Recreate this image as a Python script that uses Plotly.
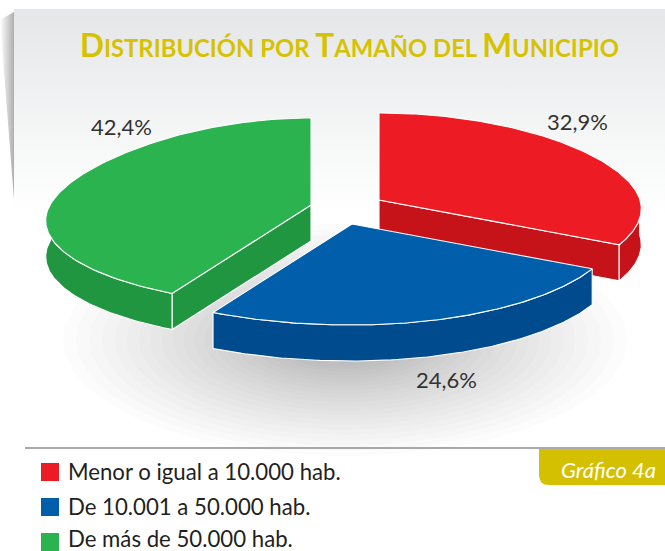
import numpy as np
import plotly.graph_objects as go

# ---- data ----
categories = ["Menor o igual a 10.000 hab.", "De 10.001 a 50.000 hab.", "De más de 50.000 hab."]
values = [32.9, 24.6, 42.4]
value_labels = ["32,9%", "24,6%", "42,4%"]
top_colors = ["#ED1C24", "#005EAB", "#2AB34E"]
side_colors = ["#C6131A", "#004B8D", "#209641"]
title_text = "Distribución por Tamaño del Municipio"
badge_text = "Gráfico 4a"

# ---- projection settings for the tilted, exploded pie ----
APEX = [(379, 200), (352, 224), (311, 205)]
LABEL_POS = [(577, 121), (446, 379), (121, 126)]
RX, RY, Q, P_RIGHT, P_LEFT, DEPTH = 261, 87, 14, 0.10, 0.185, 36
W, H = 665, 551
FONT = "Lato"


def project(apex, theta, depth=0):
    s, c = np.sin(theta), -np.cos(theta)
    p = np.where(s >= 0, P_RIGHT, P_LEFT)
    return apex[0] + RX * s * (1 + p * c), apex[1] + RY * c + Q * np.maximum(c, 0) ** 2 + depth


fig = go.Figure()


def poly(xs, ys, color, width=1.1, line="white"):
    fig.add_trace(go.Scatter(x=list(xs), y=list(ys), mode="lines", fill="toself", fillcolor=color,
                             line=dict(color=line, width=width), hoverinfo="skip", showlegend=False))


# ---- backdrop ----
fig.add_trace(go.Scatter(x=[14, 665, 665, 14, 14], y=[9, 9, 215, 215, 9], mode="lines", fill="toself",
                         line=dict(width=0), hoverinfo="skip", showlegend=False,
                         fillgradient=dict(type="vertical",
                                           colorscale=[[0, "#FFFFFF"], [0.35, "#F6F7F7"], [1, "#E5E6E8"]])))
fig.add_trace(go.Scatter(x=[0, 14, 14, 0], y=[20, 12, 200, 20], mode="lines", fill="toself",
                         line=dict(width=0), hoverinfo="skip", showlegend=False,
                         fillgradient=dict(type="horizontal",
                                           colorscale=[[0, "rgba(120,120,120,0)"], [1, "rgba(120,120,120,0.6)"]])))

# ---- soft shadow under the pie ----
t = np.linspace(0, 2 * np.pi, 120)
for f in np.linspace(1, 0.3, 26) ** 1.7:
    fig.add_trace(go.Scatter(x=345 + 282 * f * np.cos(t), y=340 + 116 * f * np.sin(t), mode="lines",
                             fill="toself", fillcolor="rgba(60,62,70,0.016)", line=dict(width=0),
                             hoverinfo="skip", showlegend=False))

# ---- slices ----
edges = np.concatenate([[0], np.cumsum(values)]) / sum(values) * 2 * np.pi
for i in [0, 2, 1]:
    a0, a1 = edges[i], edges[i + 1]
    apex = APEX[i]
    th = np.linspace(a0, a1, 160)
    ax, ay = project(apex, th)
    # cut faces seen from the front
    if i == 0:
        ex, ey = project(apex, np.array(a1))
        poly([apex[0], ex, ex, apex[0], apex[0]], [apex[1], ey, ey + DEPTH, apex[1] + DEPTH, apex[1]], side_colors[i])
    if i == 2:
        ex, ey = project(apex, np.array(a0))
        poly([apex[0], ex, ex, apex[0], apex[0]], [apex[1], ey, ey + DEPTH, apex[1] + DEPTH, apex[1]], side_colors[i])
    # visible outer rim: the front half of the ellipse
    mask = (th >= np.pi / 2 - 0.02) & (th <= 3 * np.pi / 2 + 0.02)
    rx, ry = ax[mask], ay[mask]
    poly(np.r_[rx, rx[::-1], rx[0]], np.r_[ry, ry[::-1] + DEPTH, ry[0]], side_colors[i])
    # top face
    poly(np.r_[apex[0], ax, apex[0]], np.r_[apex[1], ay, apex[1]], top_colors[i])

# ---- legend squares and labels ----
legend_y = [472, 507, 542]
legend_text_y = [474.5, 509.5, 541]
fig.add_trace(go.Scatter(x=[50] * 3, y=legend_y, mode="markers", hoverinfo="skip", showlegend=False,
                         marker=dict(symbol="square", size=18, color=top_colors, line=dict(width=0))))
fig.add_trace(go.Scatter(x=[68] * 3, y=legend_text_y, mode="text", text=categories, hoverinfo="skip",
                         showlegend=False, textposition="middle right", cliponaxis=False,
                         textfont=dict(family=FONT, size=22.2, color="#231F20")))

ann = []
for lab, (lx, ly) in zip(value_labels, LABEL_POS):
    ann.append(dict(x=lx, y=ly, text=lab, showarrow=False, font=dict(family=FONT, size=22, color="#333333")))
# small-caps title
big, small = 31.5, 23.8
parts = []
for word in title_text.split(" "):
    if word[0].isupper():
        parts.append(f"<span style='font-size:{big}px'>{word[0]}</span>{word[1:].upper()}")
    else:
        parts.append(word.upper())
ann.append(dict(x=349.5, y=45, text=" ".join(parts), showarrow=False,
                font=dict(family=FONT, size=small, color="#D6C200", weight="bold")))
ann.append(dict(x=608, y=469, text=f"<i>{badge_text}</i>", showarrow=False,
                font=dict(family=FONT, size=22, color="white")))

fig.update_layout(
    width=W, height=H, margin=dict(l=0, r=0, t=0, b=0), paper_bgcolor="white", plot_bgcolor="rgba(0,0,0,0)",
    xaxis=dict(range=[0, W], visible=False, fixedrange=True),
    yaxis=dict(range=[H, 0], visible=False, fixedrange=True),
    annotations=ann, showlegend=False,
    shapes=[
        dict(type="line", x0=25, x1=665, y0=448, y1=448, line=dict(color="#8A8C8E", width=1.5), layer="above"),
        dict(type="path", path="M 539 449 L 665 449 L 665 485 L 549 485 Q 539 485 539 475 Z",
             fillcolor="#D4BF00", line=dict(width=0), layer="above"),
    ],
)
fig.write_html("out.html", config={"displayModeBar": False},
               post_script="document.body.style.margin='0';document.documentElement.style.overflow='hidden';")
